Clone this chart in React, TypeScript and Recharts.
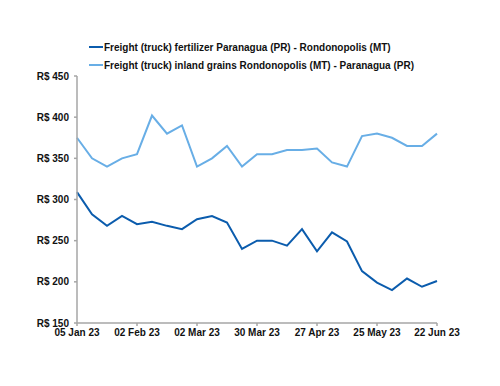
import React from "react";
import { LineChart, Line, XAxis, YAxis } from "recharts";

const dates = [
  "05 Jan 23", "12 Jan 23", "19 Jan 23", "26 Jan 23", "02 Feb 23", "09 Feb 23", "16 Feb 23", "23 Feb 23",
  "02 Mar 23", "09 Mar 23", "16 Mar 23", "23 Mar 23", "30 Mar 23", "06 Apr 23", "13 Apr 23", "20 Apr 23",
  "27 Apr 23", "04 May 23", "11 May 23", "18 May 23", "25 May 23", "01 Jun 23", "08 Jun 23", "15 Jun 23",
  "22 Jun 23",
];
const fertilizer = [309, 282, 268, 280, 270, 273, 268, 264, 276, 280, 272, 240, 250, 250, 244, 264, 237, 260, 249, 213, 199, 190, 204, 194, 201];
const grains = [375, 350, 340, 350, 355, 402, 380, 390, 340, 350, 365, 340, 355, 355, 360, 360, 362, 345, 340, 377, 380, 375, 365, 365, 380];
const yTicks = [150, 200, 250, 300, 350, 400, 450];

const seriesNames = [
  "Freight (truck) fertilizer Paranagua (PR) - Rondonopolis (MT)",
  "Freight (truck) inland grains Rondonopolis (MT) - Paranagua (PR)",
];
const colors = ["#0b5cad", "#68aee6"];

const data = dates.map((d, i) => ({ date: d, fert: fertilizer[i], grain: grains[i] }));

const FONT = "'Liberation Sans', Arial, sans-serif";

export default function App() {
  return (
    <div style={{ position: "absolute", left: 0, top: 0, width: 500, height: 386, background: "#fff" }}>
      <div
        style={{
          position: "absolute",
          top: 38,
          left: 89,
          zIndex: 2,
          fontFamily: FONT,
          fontWeight: 700,
          fontSize: 10,
          color: "#111",
          whiteSpace: "nowrap",
        }}
      >
        {seriesNames.map((n, i) => (
          <div key={n} style={{ display: "flex", alignItems: "center", height: 18 }}>
            <span style={{ display: "inline-block", width: 14, height: 2, background: colors[i], marginRight: 1 }} />
            <span>{n}</span>
          </div>
        ))}
      </div>
      <LineChart width={500} height={386} data={data} margin={{ top: 76, right: 63, bottom: 33, left: 17 }}>
        <XAxis
          dataKey="date"
          interval={3}
          height={30}
          axisLine={{ stroke: "#a6a6a6", strokeWidth: 1.5 }}
          tickLine={{ stroke: "#a6a6a6", strokeWidth: 1.5 }}
          tickSize={3}
          tickMargin={3}
          tick={{ fill: "#111", fontSize: 10, fontWeight: 700, fontFamily: FONT }}
        />
        <YAxis
          domain={[150, 450]}
          ticks={yTicks}
          width={60}
          axisLine={{ stroke: "#a6a6a6", strokeWidth: 1.5 }}
          tickLine={{ stroke: "#a6a6a6", strokeWidth: 1.5 }}
          tickSize={3}
          tickMargin={5}
          tickFormatter={(v: number) => `R$ ${v}`}
          tick={{ fill: "#111", fontSize: 10, fontWeight: 700, fontFamily: FONT }}
        />
        <Line dataKey="fert" name={seriesNames[0]} stroke={colors[0]} strokeWidth={2} dot={false} isAnimationActive={false} />
        <Line dataKey="grain" name={seriesNames[1]} stroke={colors[1]} strokeWidth={2} dot={false} isAnimationActive={false} />
      </LineChart>
    </div>
  );
}
